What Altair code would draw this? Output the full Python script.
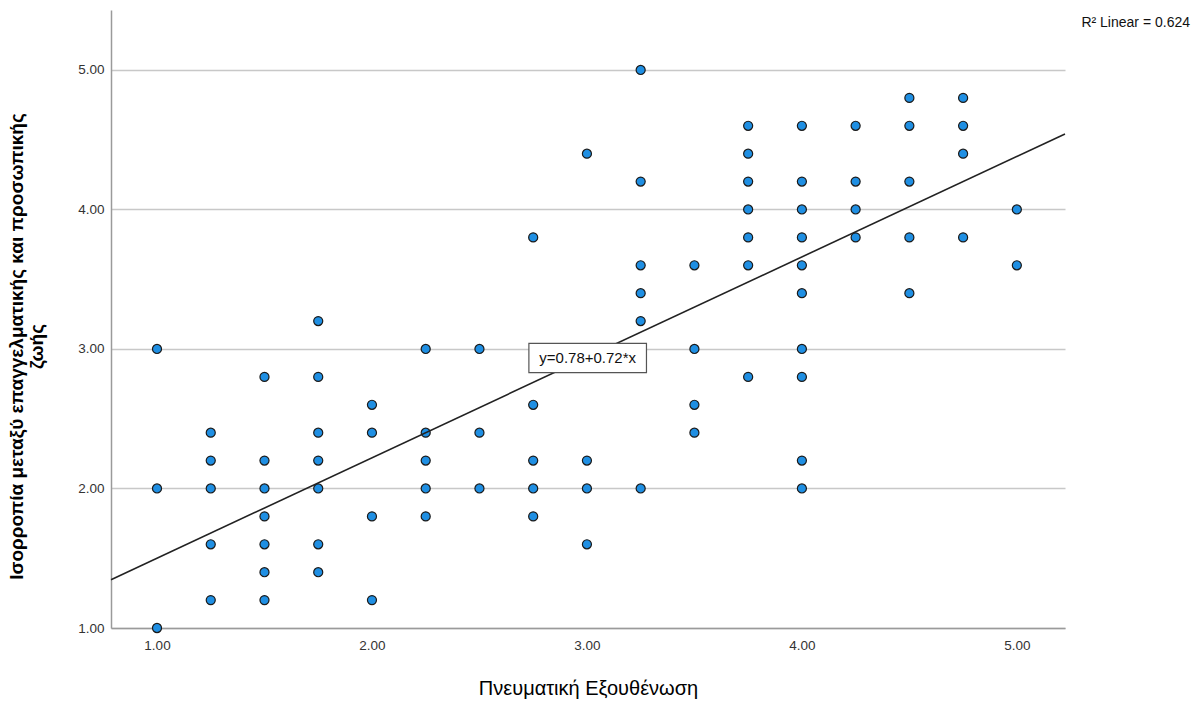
import altair as alt
import pandas as pd

# Scatter data: x value and the y values observed at it
x_cols = [1.00, 1.25, 1.50, 1.75, 2.00, 2.25, 2.50, 2.75, 3.00, 3.25, 3.50, 3.75, 4.00, 4.25, 4.50, 4.75, 5.00]
y_vals = [
    [3.0, 2.0, 1.0],
    [2.4, 2.2, 2.0, 1.6, 1.2],
    [2.8, 2.2, 2.0, 1.8, 1.6, 1.4, 1.2],
    [3.2, 2.8, 2.4, 2.2, 2.0, 1.6, 1.4],
    [2.6, 2.4, 1.8, 1.2],
    [3.0, 2.4, 2.2, 2.0, 1.8],
    [3.0, 2.4, 2.0],
    [3.8, 2.6, 2.2, 2.0, 1.8],
    [4.4, 2.2, 2.0, 1.6],
    [5.0, 4.2, 3.6, 3.4, 3.2, 2.0],
    [3.6, 3.0, 2.6, 2.4],
    [4.6, 4.4, 4.2, 4.0, 3.8, 3.6, 2.8],
    [4.6, 4.2, 4.0, 3.8, 3.6, 3.4, 3.0, 2.8, 2.2, 2.0],
    [4.6, 4.2, 4.0, 3.8],
    [4.8, 4.6, 4.2, 3.8, 3.4],
    [4.8, 4.6, 4.4, 3.8],
    [4.0, 3.6],
]
tick_values = [1, 2, 3, 4, 5]
intercept = 0.78
slope = 0.72
r2 = 0.624
x_domain = [0.786, 5.224]
y_domain = [1.0, 5.43]

x_title = "Πνευματική Εξουθένωση"
y_title = ["Ισορροπία μεταξύ επαγγελματικής και προσωπικής", "ζωής"]
eq_label = f"y={intercept:.2f}+{slope:.2f}*x"
r2_label = f"R² Linear = {r2:.3f}"

rows = [{"x": xv, "y": yv} for xv, ys in zip(x_cols, y_vals) for yv in ys]
df = pd.DataFrame(rows)
line_df = pd.DataFrame({"x": x_domain, "y": [intercept + slope * v for v in x_domain]})

FONT = "Liberation Sans"

xs = alt.Scale(domain=x_domain, nice=False, zero=False)
ys = alt.Scale(domain=y_domain, nice=False, zero=False)

base_x = alt.X("x:Q", scale=xs, axis=alt.Axis(
    values=tick_values, format=".2f", grid=False, ticks=False,
    domainColor="#9a9a9a", domainWidth=1.5, labelColor="#333333",
    labelFontSize=13.5, labelFont=FONT, labelPadding=10,
    title=x_title, titleFont=FONT, titleFontSize=20, titleFontWeight="normal",
    titleColor="#000000", titleY=60, titleBaseline="middle"))
base_y = alt.Y("y:Q", scale=ys, axis=alt.Axis(
    values=tick_values, format=".2f", grid=True, gridColor="#c8c8c8", gridWidth=1.5,
    ticks=False, domainColor="#9a9a9a", domainWidth=1.5, labelColor="#333333",
    labelFontSize=13.5, labelFont=FONT, labelPadding=7,
    title=y_title, titleFont=FONT, titleFontSize=19, titleFontWeight="bold",
    titleColor="#000000", titleX=-104, titleY=336, titleBaseline="top", titleLineHeight=20))

points = alt.Chart(df).mark_point(
    filled=True, fill="#1f8fe3", stroke="#1a1a1a", strokeWidth=1.2, size=82, opacity=1, shape="circle"
).encode(x=base_x, y=base_y)

line = alt.Chart(line_df).mark_line(color="#222222", strokeWidth=1.6).encode(
    x=alt.X("x:Q", scale=xs), y=alt.Y("y:Q", scale=ys))

box_df = pd.DataFrame({"x": [2.73], "x2": [3.277], "y": [3.04], "y2": [2.83], "xc": [3.0035], "yc": [2.935], "t": [eq_label]})
box = alt.Chart(box_df).mark_rect(fill="white", stroke="#555555", strokeWidth=1.2).encode(
    x=alt.X("x:Q", scale=xs), x2="x2:Q", y=alt.Y("y:Q", scale=ys), y2="y2:Q")
box_text = alt.Chart(box_df).mark_text(font=FONT, fontSize=15, color="#111111", baseline="middle", align="center").encode(
    x=alt.X("xc:Q", scale=xs), y=alt.Y("yc:Q", scale=ys), text="t:N")

r2_df = pd.DataFrame({"t": [r2_label]})
r2_text = alt.Chart(r2_df).mark_text(font=FONT, fontSize=14, color="#111111", align="right", baseline="middle", clip=False).encode(
    x=alt.value(1079), y=alt.value(13), text="t:N")

chart = alt.layer(points, line, box, box_text, r2_text).properties(
    width=954, height=618,
    autosize=alt.AutoSizeParams(type="none"),
    padding={"left": 111, "top": 10, "right": 135, "bottom": 74},
    background="white",
).configure_view(stroke=None)

chart.save("out.html", embed_options={"renderer": "svg", "actions": False})
